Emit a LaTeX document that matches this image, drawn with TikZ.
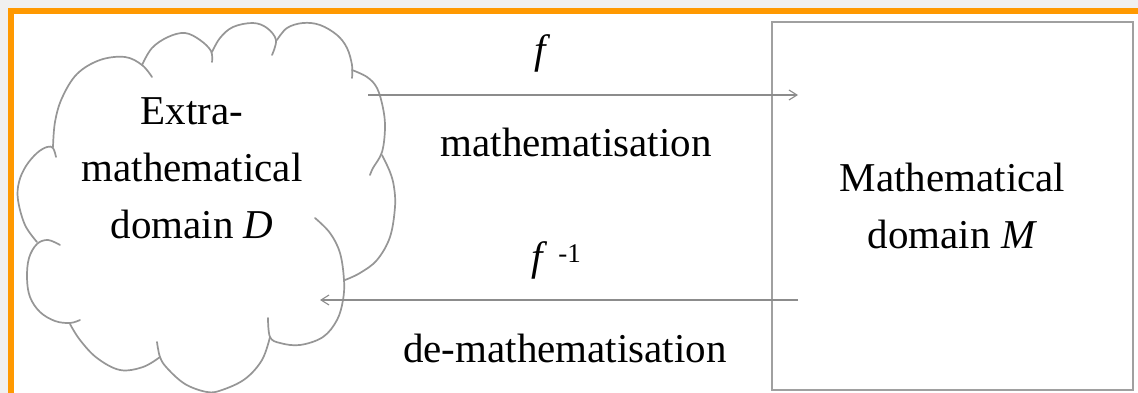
\documentclass[tikz,border=0pt]{standalone}
\usepackage{fontspec}
\setmainfont{Liberation Serif}
\usetikzlibrary{arrows.meta}
\definecolor{framebg}{RGB}{240,240,240}
\definecolor{frameorange}{RGB}{255,153,0}
\definecolor{cloudgray}{RGB}{150,150,150}
\definecolor{boxgray}{RGB}{160,160,160}
\definecolor{arrowgray}{RGB}{140,140,140}
\tikzset{
  cloudline/.style={draw=cloudgray, line width=1.7pt, line cap=round},
  lobe/.style={smooth, tension=0.6},
  mbox/.style={draw=boxgray, line width=2.5pt, minimum width=361pt, minimum height=368pt, align=center, inner sep=0pt},
  bigtext/.style={font=\fontsize{41}{57}\selectfont, inner sep=0pt},
  maparrow/.style={draw=arrowgray, line width=1.1pt, -{Straight Barb[length=8pt,width=10pt]}}
}
\begin{document}
\begin{tikzpicture}[x=1pt,y=-1pt]
\useasboundingbox (0,0) rectangle (1138,393);
\clip (0,0) rectangle (1138,393);
\fill[framebg] (0,0) rectangle (1138,393);
\fill[white] (10.5,11) rectangle (1200,450);
\draw[frameorange, line width=6pt] (10.5,11) rectangle (1200,450);

% cloud lobes
\draw[cloudline] plot[lobe] coordinates {(53,147) (55,122) (62,98) (77,74) (100,60) (125,57) (142,65) (152,77)};
\draw[cloudline] plot[lobe] coordinates {(142,65) (152,48) (168,37) (185,33) (200,40) (211,51) (212,62)};
\draw[cloudline] plot[lobe] coordinates {(212,52) (220,38) (233,27) (253,23) (267,28) (276,40) (272,55)};
\draw[cloudline] plot[lobe] coordinates {(277,40) (287,28) (303,23) (320,25) (337,35) (347,48) (352,65) (352,78)};
\draw[cloudline] plot[lobe] coordinates {(352,70) (367,77) (377,88) (383,108) (385,128) (382,152) (373,168) (370,175)};
\draw[cloudline] plot[lobe] coordinates {(382,155) (390,172) (394,187) (395,207) (390,237) (377,260) (360,273) (345,280)};
\draw[cloudline] plot[lobe] coordinates {(315,218) (330,233) (340,253) (344,280) (343,300) (337,320) (323,337) (300,345) (280,343) (270,337) (268,318)};
\draw[cloudline] plot[lobe] coordinates {(270,337) (262,360) (245,379) (222,390) (207,392) (185,384) (167,368) (160,357) (157,342)};
\draw[cloudline] plot[lobe] coordinates {(160,357) (143,367) (120,370) (97,358) (80,340) (70,324)};
\draw[cloudline] plot[lobe] coordinates {(80,320) (70,323) (55,321) (40,312) (30,297) (27,278) (29,258) (37,244) (48,240) (60,245)};
\draw[cloudline] plot[lobe] coordinates {(37,242) (25,225) (18,200) (19,182) (26,166) (37,153) (47,147) (53,148) (56,157)};

\node[bigtext, align=center] (dtext) at (192,168) {Extra-\\mathematical\\domain \textit{D}};

\node[mbox, bigtext] (mdom) at (952.5,206) {Mathematical\\domain \textit{M}};

\coordinate (fstart) at (368,95);
\coordinate (fend) at (798,95);
\coordinate (gstart) at (798,300);
\coordinate (gend) at (320,300);
\draw[maparrow] (fstart) -- (fend);
\draw[maparrow] (gstart) -- (gend);

\node[bigtext, anchor=base] (flabel) at (543,64) {\textit{f}};
\node[bigtext, anchor=base] (mlabel) at (576,157) {mathematisation};
\node[bigtext, anchor=base west] (finvlabel) at (531,270) {\textit{f}\hspace{11pt}\raisebox{8pt}{\fontsize{27}{27}\selectfont -1}};
\node[bigtext, anchor=base west] (dmlabel) at (403,362) {de-mathematisation};
\end{tikzpicture}
\end{document}
